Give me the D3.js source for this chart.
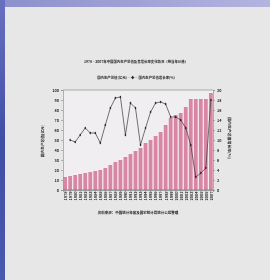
<!DOCTYPE html>
<html lang="zh">
<head>
<meta charset="UTF-8">
<title>国内生产总值及增长率</title>
<script src="https://d3js.org/d3.v7.min.js"></script>
<style>
    html, body { margin: 0; padding: 0; background: #e8e8e8; }
    svg { display: block; }
    text { font-family: "Noto Sans CJK SC", sans-serif; fill: #2a2a2a; }
</style>
</head>
<body>
<div id="chart"></div>
<script>
// data
const years = d3.range(1978, 2008).map(String);
const gdpValues = [13, 14, 15, 16, 17, 18, 19, 20, 22, 25, 28, 30, 33, 36, 39,
                   42, 47, 50, 54, 58, 65, 72, 75, 77, 83, 91, 91, 91, 91, 97];
const growthValues = [null, 10, 9.6, 11, 12.4, 11.4, 11.4, 9.4, 13, 16.4, 18.4, 18.6, 11, 17.4, 16.4,
                      9, 12.4, 15.6, 17.4, 17.6, 17.2, 14.6, 14.6, 14, 12.4, 9, 2.6, 3.4, 4.4, 18];
const leftTicks = d3.range(0, 101, 10);
const rightTicks = d3.range(0, 21, 2);

const titleText = "1978—2007年中国国内生产总值及其增长率变化情况（按当年价格）";
const legendText = "国内生产总值(亿元)  —◆—  国内生产总值增长率(%)";
const xTitle = "资料来源：中国统计年鉴及国家统计局统计公报整理";
const leftTitle = "国内生产总值(亿元)";
const rightTitle = "国内生产总值增长率(%)";

const W = 270, H = 280;
const margin = {top: 90, right: 57, bottom: 90, left: 63};
const width = W - margin.left - margin.right;
const height = H - margin.top - margin.bottom;

const svg = d3.select("#chart").append("svg")
    .attr("width", W).attr("height", H);

const defs = svg.append("defs");
const blur = defs.append("filter").attr("id", "soft");
blur.append("feGaussianBlur").attr("stdDeviation", 0.45);

const gLeft = defs.append("linearGradient").attr("id", "leftEdge")
    .attr("x1", 0).attr("y1", 0).attr("x2", 0).attr("y2", 1);
gLeft.append("stop").attr("offset", "0%").attr("stop-color", "#6a70c0");
gLeft.append("stop").attr("offset", "50%").attr("stop-color", "#3f4fa6");
gLeft.append("stop").attr("offset", "100%").attr("stop-color", "#4a58b0");
const gTop = defs.append("linearGradient").attr("id", "topEdge")
    .attr("x1", 0).attr("y1", 0).attr("x2", 1).attr("y2", 0);
gTop.append("stop").attr("offset", "0%").attr("stop-color", "#8c90cc");
gTop.append("stop").attr("offset", "100%").attr("stop-color", "#b4b4e0");

// paper + edges of the photo
svg.append("rect").attr("width", W).attr("height", H).attr("fill", "#e7e7e7");
svg.append("rect").attr("width", W).attr("height", 7).attr("fill", "url(#topEdge)");
svg.append("rect").attr("width", 5).attr("height", H).attr("fill", "url(#leftEdge)");

const root = svg.append("g").attr("filter", "url(#soft)");
const g = root.append("g").attr("transform", `translate(${margin.left},${margin.top})`);

const x = d3.scaleBand().domain(years).range([0, width]).paddingInner(0.25).paddingOuter(0.05);
const yL = d3.scaleLinear().domain([0, 100]).range([height, 0]);
const yR = d3.scaleLinear().domain([0, 20]).range([height, 0]);

// plot background
g.append("rect").attr("width", width).attr("height", height).attr("fill", "#f0eef1");

// bars
g.selectAll(".bar")
    .data(gdpValues)
    .enter().append("rect")
    .attr("class", "bar")
    .attr("x", (d, i) => x(years[i]))
    .attr("y", d => yL(d))
    .attr("width", x.bandwidth())
    .attr("height", d => height - yL(d))
    .attr("fill", "#d986a5");

// frame
g.append("line").attr("x1", 0).attr("x2", width).attr("y1", 0).attr("y2", 0)
    .attr("stroke", "#999").attr("stroke-width", 0.8);
g.append("line").attr("x1", 0).attr("x2", width).attr("y1", height).attr("y2", height)
    .attr("stroke", "#777").attr("stroke-width", 0.8);

// axes
const axL = g.append("g").call(d3.axisLeft(yL).tickValues(leftTicks).tickSize(2).tickPadding(2));
const axR = g.append("g").attr("transform", `translate(${width},0)`)
    .call(d3.axisRight(yR).tickValues(rightTicks).tickSize(2).tickPadding(2));
const axB = g.append("g").attr("transform", `translate(0,${height})`)
    .call(d3.axisBottom(x).tickSize(2).tickPadding(1));
[axL, axR, axB].forEach(a => {
    a.selectAll("path, line").attr("stroke", "#888").attr("stroke-width", 0.6);
    a.selectAll("text").style("font-size", "3.8px").style("font-weight", "bold").attr("fill", "#444");
});
axB.selectAll("text")
    .attr("transform", "rotate(-90)")
    .attr("text-anchor", "end")
    .attr("dx", "-0.4em")
    .attr("dy", "-0.3em");

// growth line
const line = d3.line()
    .defined(d => d != null)
    .x((d, i) => x(years[i]) + x.bandwidth() / 2)
    .y(d => yR(d));
g.append("path")
    .datum(growthValues)
    .attr("fill", "none")
    .attr("stroke", "#3a3a3a")
    .attr("stroke-width", 0.7)
    .attr("d", line);
g.selectAll(".pt")
    .data(growthValues.map((v, i) => ({v, i})).filter(d => d.v != null))
    .enter().append("path")
    .attr("class", "pt")
    .attr("transform", d => `translate(${x(years[d.i]) + x.bandwidth() / 2},${yR(d.v)})`)
    .attr("d", d3.symbol(d3.symbolDiamond, 3))
    .attr("fill", "#222");

// titles
root.append("text").attr("x", 136).attr("y", 63).attr("text-anchor", "middle")
    .style("font-size", "3.4px").style("font-weight", "bold").text(titleText);
root.append("text").attr("x", 136).attr("y", 79).attr("text-anchor", "middle")
    .style("font-size", "3.4px").style("font-weight", "bold").text(legendText);
root.append("text").attr("x", 138).attr("y", 214).attr("text-anchor", "middle")
    .style("font-size", "3.5px").style("font-weight", "bold").text(xTitle);
root.append("text").attr("transform", "translate(44,141) rotate(-90)").attr("text-anchor", "middle")
    .style("font-size", "3.7px").style("font-weight", "bold").text(leftTitle);
root.append("text").attr("transform", "translate(228,138) rotate(90)").attr("text-anchor", "middle")
    .style("font-size", "3.9px").style("font-weight", "bold").text(rightTitle);
</script>
</body>
</html>
